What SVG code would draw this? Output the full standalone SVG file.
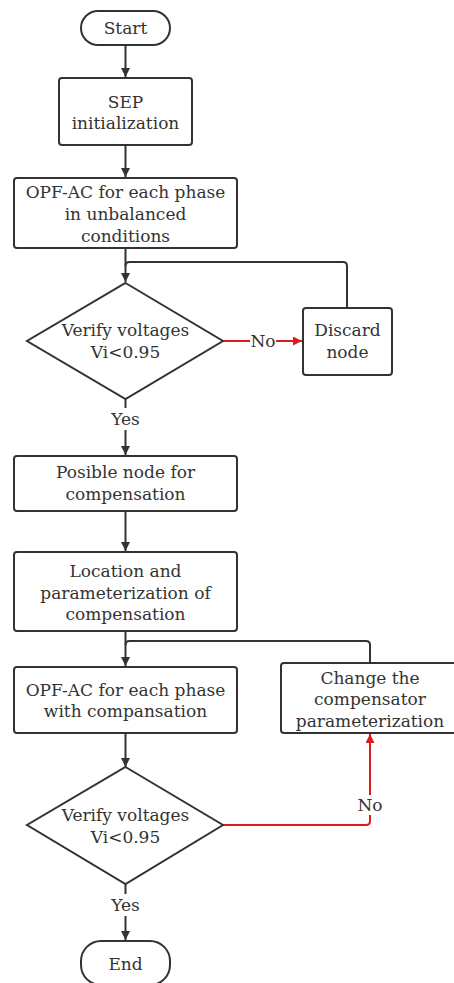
<svg xmlns="http://www.w3.org/2000/svg" width="454" height="983" viewBox="0 0 454 983">
<style>
.n{fill:#fff;stroke:#333;stroke-width:2}
.t{font-family:"DejaVu Serif","Liberation Serif",serif;font-size:17px;fill:#333;text-anchor:middle}
.c{fill:none;stroke:#333;stroke-width:2}
.r{fill:none;stroke:#e01b1b;stroke-width:2}
.lb{fill:#fff}
</style>
<defs>
<marker id="a" viewBox="0 0 10 10" refX="10" refY="5" markerWidth="10" markerHeight="9" markerUnits="userSpaceOnUse" orient="auto"><path d="M0,0 L10,5 L0,10 Z" fill="#333"/></marker>
<marker id="ar" viewBox="0 0 10 10" refX="10" refY="5" markerWidth="10" markerHeight="9" markerUnits="userSpaceOnUse" orient="auto"><path d="M0,0 L10,5 L0,10 Z" fill="#e01b1b"/></marker>
</defs>
<g id="connectors">
<path class="c" d="M125.5,45 V77" marker-end="url(#a)"/>
<path class="c" d="M125.5,145 V177" marker-end="url(#a)"/>
<path class="c" d="M125.5,248 V282" marker-end="url(#a)"/>
<path class="c" d="M347,308 V266 Q347,262 343,262 H129.5 Q125.5,262 125.5,266"/>
<path class="r" d="M223,341 H302" marker-end="url(#ar)"/>
<rect class="lb" x="250" y="331" width="26" height="20"/>
<text class="t" x="263" y="347">No</text>
<path class="c" d="M125.5,399 V455" marker-end="url(#a)"/>
<rect class="lb" x="108" y="408" width="35" height="22"/>
<text class="t" x="125.5" y="425">Yes</text>
<path class="c" d="M125.5,511 V551" marker-end="url(#a)"/>
<path class="c" d="M125.5,631 V666" marker-end="url(#a)"/>
<path class="c" d="M370,663 V645 Q370,641 366,641 H129.5 Q125.5,641 125.5,645"/>
<path class="c" d="M125.5,733 V767" marker-end="url(#a)"/>
<path class="r" d="M223,825 H366 Q370,825 370,821 V734" marker-end="url(#ar)"/>
<rect class="lb" x="356" y="795" width="28" height="20"/>
<text class="t" x="370" y="811">No</text>
<path class="c" d="M125.5,884 V940" marker-end="url(#a)"/>
<rect class="lb" x="108" y="894" width="35" height="22"/>
<text class="t" x="125.5" y="911">Yes</text>
</g>
<g id="start"><rect class="n" x="81" y="11" width="89" height="34" rx="17"/><text class="t" x="125.5" y="34">Start</text></g>
<g id="sep"><rect class="n" x="59" y="78" width="133" height="67" rx="3"/><text class="t" x="125.5" y="108">SEP</text><text class="t" x="125.5" y="129">initialization</text></g>
<g id="opf1"><rect class="n" x="14" y="178" width="223" height="70" rx="3"/><text class="t" x="125.5" y="198">OPF-AC for each phase</text><text class="t" x="125.5" y="220">in unbalanced</text><text class="t" x="125.5" y="242">conditions</text></g>
<g id="verify1"><path class="n" d="M125.5,283 L223,341 L125.5,399 L27,341 Z"/><text class="t" x="125.5" y="336">Verify voltages</text><text class="t" x="125.5" y="358">Vi&lt;0.95</text></g>
<g id="discard"><rect class="n" x="303" y="308" width="89" height="67" rx="3"/><text class="t" x="347.5" y="336">Discard</text><text class="t" x="347.5" y="358">node</text></g>
<g id="posible"><rect class="n" x="14" y="456" width="223" height="55" rx="3"/><text class="t" x="125.5" y="478">Posible node for</text><text class="t" x="125.5" y="500">compensation</text></g>
<g id="location"><rect class="n" x="14" y="552" width="223" height="79" rx="3"/><text class="t" x="125.5" y="577">Location and</text><text class="t" x="125.5" y="599">parameterization of</text><text class="t" x="125.5" y="620">compensation</text></g>
<g id="opf2"><rect class="n" x="14" y="667" width="223" height="66" rx="3"/><text class="t" x="125.5" y="696">OPF-AC for each phase</text><text class="t" x="125.5" y="717">with compansation</text></g>
<g id="change"><rect class="n" x="281" y="663" width="178" height="70" rx="3"/><text class="t" x="370" y="684">Change the</text><text class="t" x="370" y="705">compensator</text><text class="t" x="370" y="727">parameterization</text></g>
<g id="verify2"><path class="n" d="M125.5,767 L223,825 L125.5,884 L27,825 Z"/><text class="t" x="125.5" y="821">Verify voltages</text><text class="t" x="125.5" y="843">Vi&lt;0.95</text></g>
<g id="end"><rect class="n" x="81" y="941" width="89" height="44" rx="20"/><text class="t" x="125.5" y="970">End</text></g>
</svg>
